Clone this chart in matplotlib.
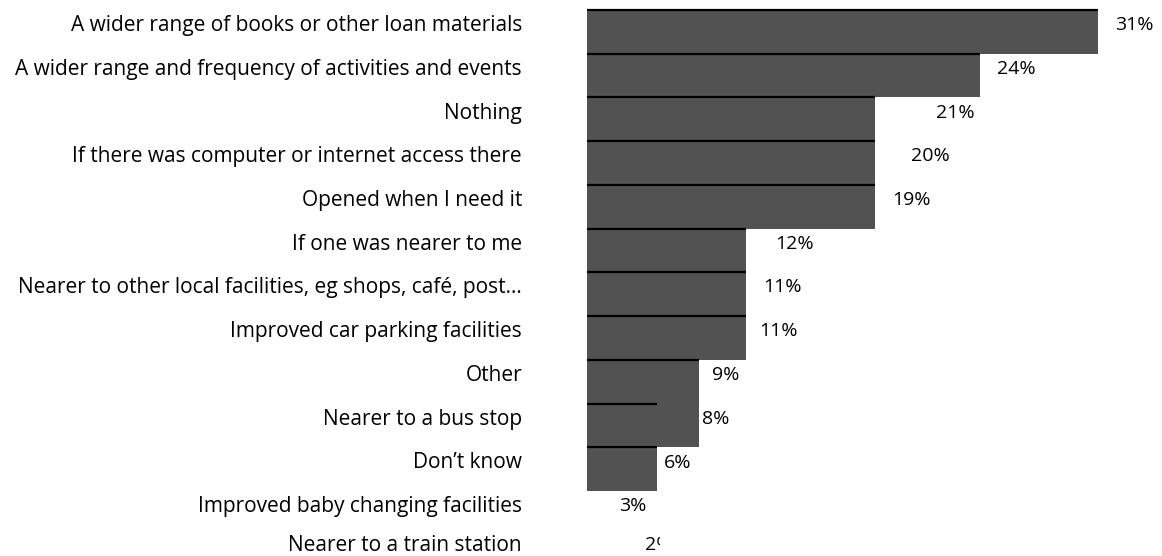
import matplotlib
matplotlib.use("Agg")
import matplotlib.pyplot as plt
from matplotlib.transforms import Bbox, TransformedBbox

categories = [
    "A wider range of books or other loan materials",
    "A wider range and frequency of activities and events",
    "Nothing",
    "If there was computer or internet access there",
    "Opened when I need it",
    "If one was nearer to me",
    "Nearer to other local facilities, eg shops, café, post…",
    "Improved car parking facilities",
    "Other",
    "Nearer to a bus stop",
    "Don’t know",
    "Improved baby changing facilities",
    "Nearer to a train station",
]
values = [31, 24, 21, 20, 19, 12, 11, 11, 9, 8, 6, 3, 2]
value_labels = [f"{v}%" for v in values]
# bar extents as they appear in the picture (in % units)
bar_extent = [31, 23.84, 17.47, 17.47, 17.47, 9.65, 9.65, 9.65, 6.79, 6.79, 4.25, 0, 0]
edge_extent = [31, 23.84, 17.47, 17.47, 17.47, 9.65, 9.65, 9.65, 6.79, 4.25, 4.25, 0, 0]
# label centre positions as they appear in the picture (in % units)
label_pos = [33.18, 26.03, 22.32, 20.81, 19.66, 12.56, 11.88, 11.6, 8.43, 7.83, 5.52, 2.79, 3.52]

FONT = "Open Sans"
FS = 15
VFS = 14
BAR = "#525252"
PX = 16.484  # pixels per % unit

fig = plt.figure(figsize=(11.62, 5.56), dpi=100)
ax = fig.add_axes([587 / 1162, 0, 1 - 587 / 1162, 1])
n = len(categories)
ypos = list(range(n))
ax.barh([y + 0.2 for y in ypos], bar_extent, height=1.0, color=BAR, linewidth=0)
for y, e in zip(ypos, edge_extent):
    if e > 0:
        ax.plot([0, e], [y - 0.3, y - 0.3], color="black", lw=1.6, solid_capstyle="butt")

ax.set_xlim(0, (1162 - 587) / PX)
ax.set_ylim((556 - 23) / 43.75, -23 / 43.75)
ax.set_xticks([])
ax.set_yticks([])
for s in ax.spines.values():
    s.set_visible(False)

label_x = (522 - 587) / PX
for i, cat in enumerate(categories):
    if i == n - 1:
        ax.text(label_x, i - 0.06, cat, ha="right", va="center", fontfamily=FONT,
                fontsize=FS, clip_on=False)
    else:
        ax.text(label_x, i, cat, ha="right", va="center_baseline", fontfamily=FONT,
                fontsize=FS, clip_on=False)

for i, (lbl, x) in enumerate(zip(value_labels, label_pos)):
    if i == n - 1:
        t = ax.text(x, i - 0.06, lbl, ha="left", va="center", fontfamily=FONT, fontsize=VFS)
        t.set_clip_box(TransformedBbox(Bbox([[0, i - 0.6], [4.43, i + 0.6]]), ax.transData))
        t.set_clip_on(True)
    else:
        ax.text(x, i, lbl, ha="center", va="center_baseline", fontfamily=FONT, fontsize=VFS)

fig.savefig("out.png", dpi=100)
